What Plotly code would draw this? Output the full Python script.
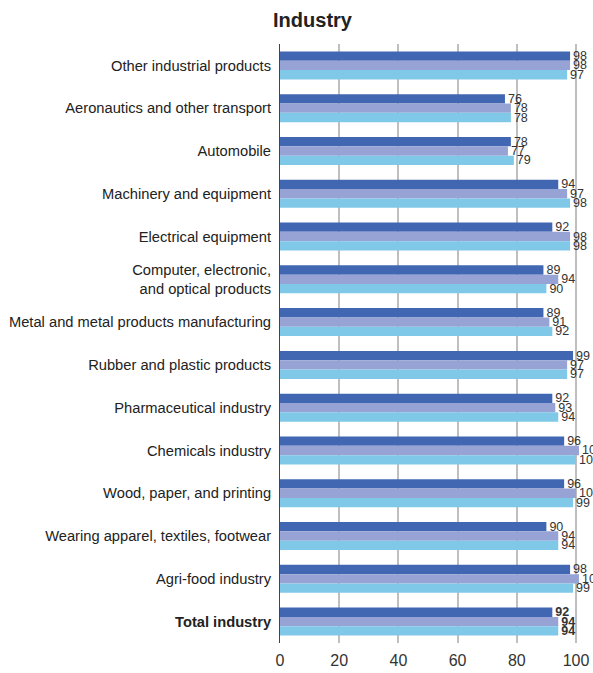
import plotly.graph_objects as go

categories = [
    "Other industrial products",
    "Aeronautics and other transport",
    "Automobile",
    "Machinery and equipment",
    "Electrical equipment",
    "Computer, electronic,<br>and optical products",
    "Metal and metal products manufacturing",
    "Rubber and plastic products",
    "Pharmaceutical industry",
    "Chemicals industry",
    "Wood, paper, and printing",
    "Wearing apparel, textiles, footwear",
    "Agri-food industry",
    "<b>Total industry</b>",
]
series_a = [98, 76, 78, 94, 92, 89, 89, 99, 92, 96, 96, 90, 98, 92]
series_b = [98, 78, 77, 97, 98, 94, 91, 97, 93, 101, 100, 94, 101, 94]
series_c = [97, 78, 79, 98, 98, 90, 92, 97, 94, 100, 99, 94, 99, 94]
colors = ["#4167B3", "#97A3D4", "#80C8E8"]
x_ticks = [0, 20, 40, 60, 80, 100]


def lbl(vals):
    out = []
    for i, v in enumerate(vals):
        s = str(v)
        if i == len(vals) - 1:
            s = "<b>" + s + "</b>"
        out.append(s)
    return out


fig = go.Figure()
for vals, col in zip([series_a, series_b, series_c], colors):
    fig.add_trace(go.Bar(
        y=categories, x=vals, orientation="h",
        marker=dict(color=col, line=dict(width=0)),
        text=lbl(vals), textposition="outside", cliponaxis=False,
        constraintext="none",
        textfont=dict(family="Liberation Sans Narrow, Liberation Sans, Arial", size=12.5, color="#333333"),
        hoverinfo="skip",
    ))

fig.update_layout(
    width=593, height=673,
    margin=dict(l=280, r=0, t=44, b=30, autoexpand=False),
    barmode="group", bargap=0.345, bargroupgap=0,
    showlegend=False,
    plot_bgcolor="white", paper_bgcolor="white",
    font=dict(family="Liberation Sans, Arial", color="#222222"),
    title=dict(text="<b>Industry</b>", x=0.527, xanchor="center", y=0.97, yanchor="middle",
               xref="container", yref="container",
               font=dict(size=20, color="#222222", family="Liberation Sans, Arial")),
)
fig.update_xaxes(
    range=[0, 313 / 2.96], tickvals=x_ticks, showgrid=True, gridcolor="#BFBFBF", gridwidth=1.5,
    zeroline=False, showline=False, ticks="", automargin=False, ticklabelstandoff=6,
    tickfont=dict(size=16, color="#333333"),
)
fig.update_yaxes(
    autorange="reversed", showline=True, linecolor="#444444", linewidth=1,
    ticks="", ticklabelstandoff=5, automargin=False,
    tickfont=dict(size=14.7, color="#222222"),
)
fig.write_html("out.html")
